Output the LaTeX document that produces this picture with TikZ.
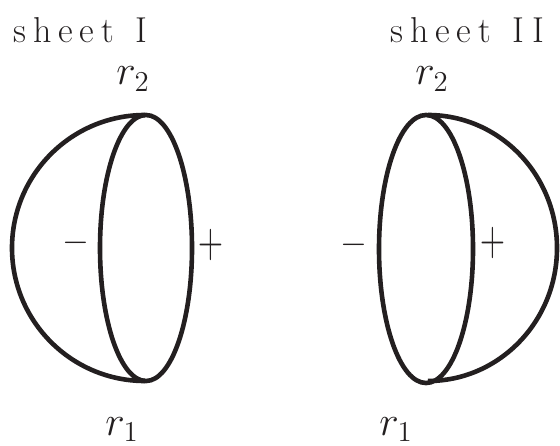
\documentclass[tikz,border=0pt]{standalone}
\usepackage{fontspec}
\usepackage{graphicx}
\usepackage{tikz}
\usepackage{amsmath}
\definecolor{ink}{RGB}{35,31,32}
\newcommand{\lsp}{\hspace{3.4pt}}

\begin{document}
\begin{tikzpicture}[x=0.5pt, y=0.5pt, every node/.style={inner sep=0pt, text=ink},
  sheetline/.style={line width=2.3pt, ink},
  titletext/.style={font=\fontsize{18}{21}\selectfont},
  rlabel/.style={font=\fontsize{20}{24}\selectfont},
  signmark/.style={font=\fontsize{19}{22}\selectfont}]
  \useasboundingbox (0,0) rectangle (560,445);
  % left sheet
  \draw[sheetline] (146,197) ellipse [x radius=46, y radius=133];
  \draw[sheetline] (145,330) arc [start angle=90, end angle=270, radius=133];
  \node[titletext, anchor=base west] (titleI) at (13,402) {s\lsp h\lsp e\lsp e\lsp t\hspace{11pt}I};
  \node[rlabel, anchor=base] (rtwoI) at (133,360) {$r_2$};
  \node[rlabel, anchor=base] (roneI) at (122,10) {$r_1$};
  \node[signmark] (minusI) at (76,202) {$-$};
  \node[signmark] (plusI) at (211,200) {\scalebox{1}[1.45]{$+$}};
  % right sheet
  \draw[sheetline] (426,196) ellipse [x radius=47, y radius=134];
  \draw[sheetline] (428,330) arc [start angle=90, end angle=-90, x radius=129, y radius=133];
  \node[titletext, anchor=base west] (titleII) at (390,402) {s\lsp h\lsp e\lsp e\lsp t\hspace{11pt}I\hspace{4pt}I};
  \node[rlabel, anchor=base] (rtwoII) at (432,360) {$r_2$};
  \node[rlabel, anchor=base] (roneII) at (396,10) {$r_1$};
  \node[signmark] (minusII) at (354,200) {$-$};
  \node[signmark] (plusII) at (493,202) {\scalebox{1}[1.45]{$+$}};
\end{tikzpicture}
\end{document}
